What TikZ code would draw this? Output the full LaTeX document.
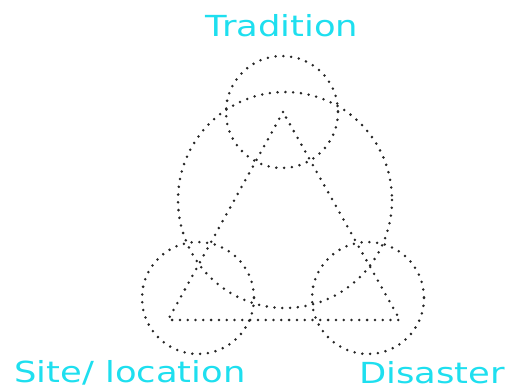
\documentclass[tikz,border=0pt]{standalone}
\usepackage{fontspec}
\setmainfont{DejaVu Sans}
\definecolor{lbl}{HTML}{1EDFEF}
\newcommand{\wlab}[1]{\scalebox{1.22}[1]{#1}}
\begin{document}
\begin{tikzpicture}[x=1pt,y=-1pt,
  dots/.style={line width=2.8pt, line cap=round, dash pattern=on 0pt off 7.8pt, black!85},
  lab/.style={text=lbl, font=\fontsize{29}{31}\selectfont, inner sep=0pt}]
\useasboundingbox (0,0) rectangle (506,390);
\coordinate (A) at (283,112);
\coordinate (B) at (168,320);
\coordinate (C) at (400,320);
\draw[dots] (A) -- (B) -- (C) -- cycle;
\draw[dots] (282,112) circle[radius=56];
\draw[dots] (198,298) circle[radius=56];
\draw[dots] (368,298) circle[radius=56];
\draw[dots] (285,200) ellipse[x radius=107, y radius=108];
\node[lab] (t) at (282,26) {\wlab{Tradition}};
\node[lab] (s) at (130,373) {\wlab{Site/ location}};
\node[lab] (d) at (432,373) {\wlab{Disaster}};
\end{tikzpicture}
\end{document}
